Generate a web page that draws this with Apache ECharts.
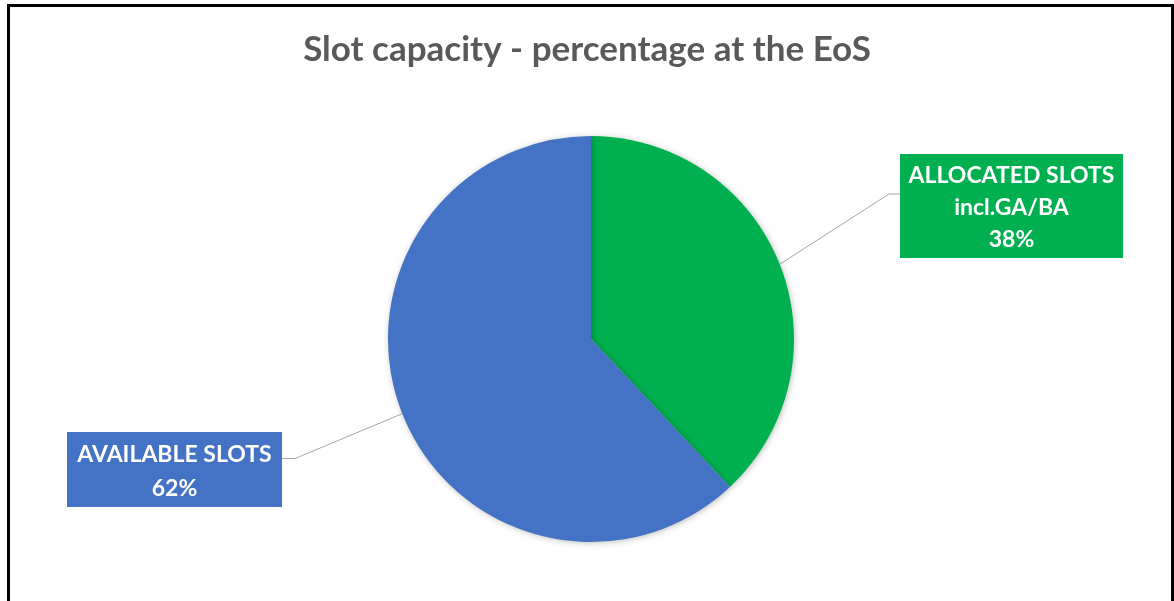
<!DOCTYPE html>
<html>
<head>
<meta charset="utf-8">
<script src="https://cdn.jsdelivr.net/npm/echarts@6/dist/echarts.min.js"></script>
<style>
  html, body { margin: 0; padding: 0; background: #fff; }
  #chart { position: absolute; left: 0; top: 0; width: 1174px; height: 601px; }
  #frame { position: absolute; left: 7px; top: 4px; width: 1161px; height: 700px;
           border: 3px solid #000; pointer-events: none; }
</style>
</head>
<body>
<div id="chart"></div>
<div id="frame"></div>
<script>
const titleText = 'Slot capacity - percentage at the EoS';
const categories = ['ALLOCATED SLOTS\nincl.GA/BA', 'AVAILABLE SLOTS'];
const values = [38, 62];
const colors = ['#00B050', '#4472C4'];

const chart = echarts.init(document.getElementById('chart'), null, { renderer: 'canvas' });

// label box placement: centre x, top y, width, line height, padding, leader-line y
const boxes = [
  { cx: 1011.5, top: 154, w: 223, side: 'right', lh: 32, pad: [6, 0, 2, 0], ly: 194 },
  { cx: 174.5, top: 432, w: 215, side: 'left', lh: 33.5, pad: [6.25, 0, 1.75, 0], ly: 458.5 }
];

chart.setOption({
  animation: false,
  title: {
    text: titleText,
    left: 'center',
    top: 27,
    textStyle: { fontFamily: 'Lato', fontWeight: 'bold', fontSize: 35, color: '#595959' }
  },
  series: [{
    type: 'pie',
    center: [591, 339],
    radius: 203,
    startAngle: 90,
    clockwise: true,
    itemStyle: { shadowBlur: 6, shadowColor: 'rgba(0,0,0,0.25)', shadowOffsetX: 1, shadowOffsetY: 1 },
    label: {
      show: true,
      position: 'outside',
      formatter: p => p.name + '\n' + p.value + '%',
      fontFamily: 'Lato',
      fontWeight: 'bold',
      fontSize: 23,
      color: '#fff',
      align: 'center'
    },
    labelLine: { show: true, lineStyle: { color: '#A6A6A6', width: 1 } },
    labelLayout: function (p) {
      const b = boxes[p.dataIndex];
      const start = p.labelLinePoints ? p.labelLinePoints[0] : null;
      const res = { x: b.cx, y: b.top, align: 'center', verticalAlign: 'top' };
      if (start) {
        const edgeX = b.side === 'right' ? b.cx - b.w / 2 : b.cx + b.w / 2;
        const elbowX = b.side === 'right' ? edgeX - 11 : edgeX + 13;
        res.labelLinePoints = [start, [elbowX, b.ly], [edgeX, b.ly]];
      }
      return res;
    },
    data: values.map((v, i) => ({
      name: categories[i],
      value: v,
      itemStyle: { color: colors[i] },
      label: {
        backgroundColor: colors[i],
        width: boxes[i].w,
        lineHeight: boxes[i].lh,
        padding: boxes[i].pad
      }
    }))
  }]
});
</script>
</body>
</html>
